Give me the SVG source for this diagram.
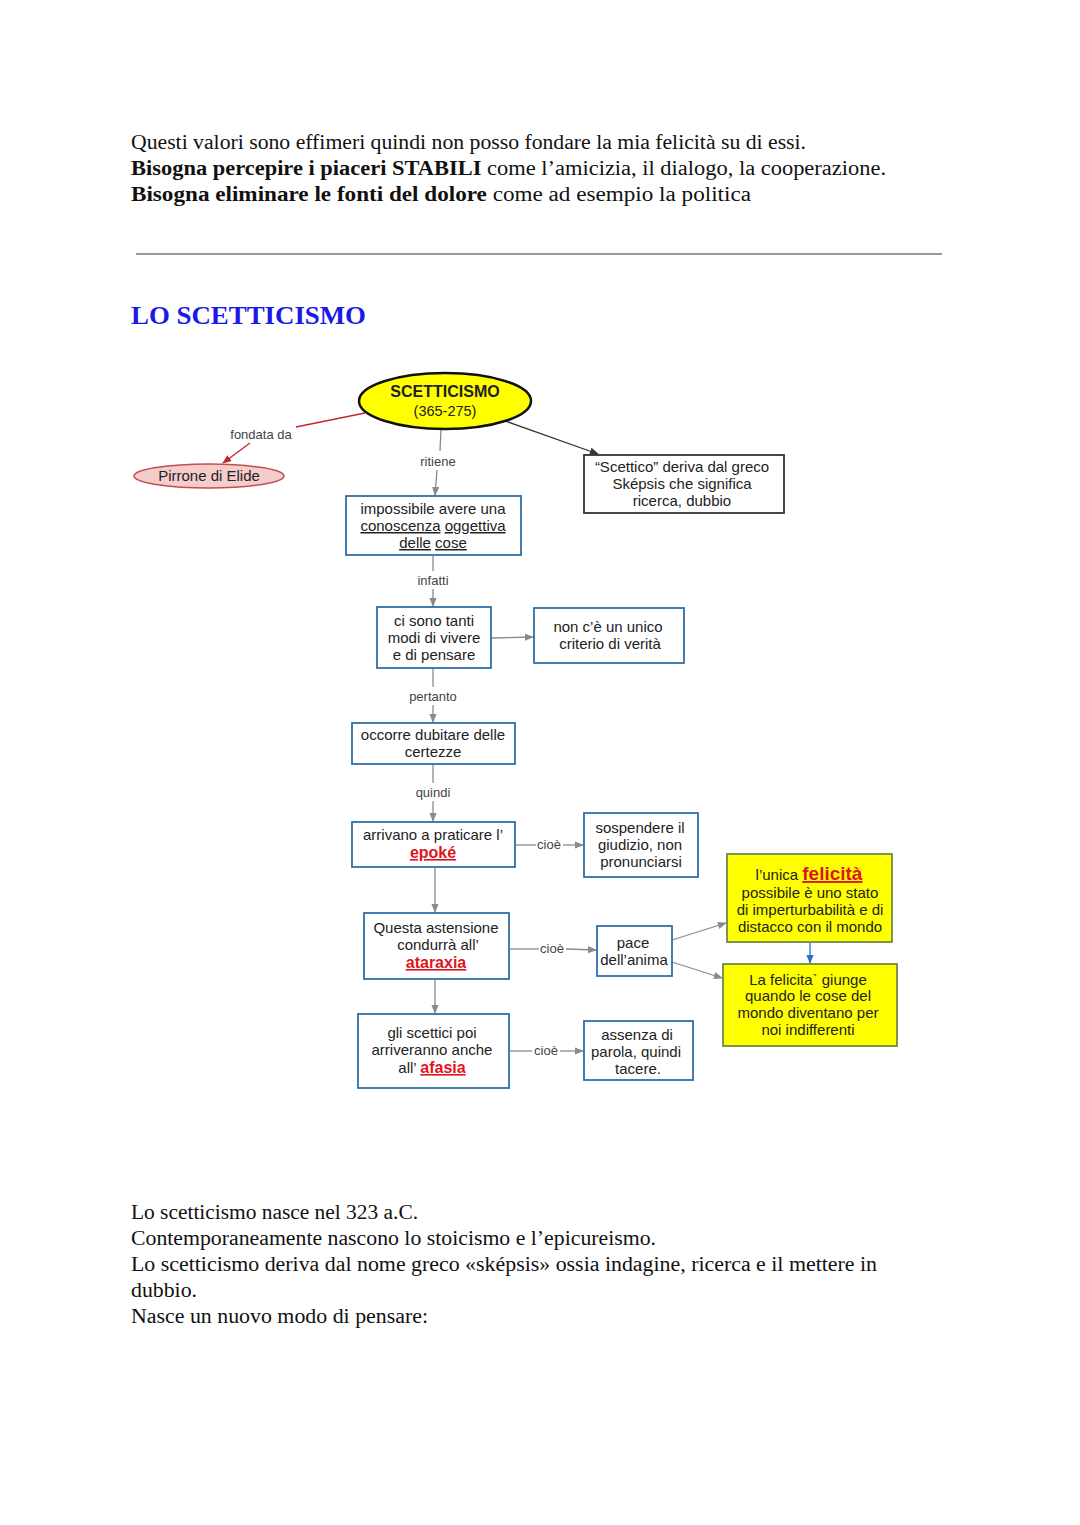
<svg xmlns="http://www.w3.org/2000/svg" width="1080" height="1525" viewBox="0 0 1080 1525">
<defs>
<style>
.p{font-family:"Liberation Serif","Times New Roman",serif;font-size:20px;fill:#111}
.b{font-weight:bold}
.h{font-family:"Liberation Serif",serif;font-size:25px;font-weight:bold;fill:#1a1ae6}
.t{font-family:"Liberation Sans",Arial,sans-serif;font-size:15px;fill:#222;text-anchor:middle}
.l{font-family:"Liberation Sans",Arial,sans-serif;font-size:13px;fill:#444;text-anchor:middle}
.r{fill:#e0141e;font-weight:bold;text-decoration:underline}
.u{text-decoration:underline}
.bx{fill:#fff;stroke:#2f6ea8;stroke-width:1.8}
.yb{fill:#ffff00;stroke:#6f8a48;stroke-width:1.8}
.c{stroke:#8a8a8a;stroke-width:1.3;fill:none}
</style>
<marker id="ag" viewBox="0 0 10 10" refX="9" refY="5" markerWidth="7" markerHeight="7" orient="auto"><path d="M0,1 L10,5 L0,9 Z" fill="#8a8a8a"/></marker>
<marker id="ak" viewBox="0 0 10 10" refX="9" refY="5" markerWidth="7" markerHeight="7" orient="auto"><path d="M0,1 L10,5 L0,9 Z" fill="#333"/></marker>
<marker id="ar" viewBox="0 0 10 10" refX="9" refY="5" markerWidth="7" markerHeight="7" orient="auto"><path d="M0,1 L10,5 L0,9 Z" fill="#c0272d"/></marker>
<marker id="ab" viewBox="0 0 10 10" refX="9" refY="5" markerWidth="7" markerHeight="7" orient="auto"><path d="M0,1 L10,5 L0,9 Z" fill="#2f6ec8"/></marker>
</defs>
<rect width="1080" height="1525" fill="#fff"/>

<g id="intro">
<text class="p" x="131" y="149" textLength="675" lengthAdjust="spacingAndGlyphs">Questi valori sono effimeri quindi non posso fondare la mia felicità su di essi.</text>
<text class="p" x="131" y="175" textLength="755" lengthAdjust="spacingAndGlyphs"><tspan class="b">Bisogna percepire i piaceri STABILI</tspan> come  l’amicizia, il dialogo, la cooperazione.</text>
<text class="p" x="131" y="201" textLength="620" lengthAdjust="spacingAndGlyphs"><tspan class="b">Bisogna eliminare le fonti del dolore</tspan> come ad esempio la politica</text>
<line x1="136" y1="254" x2="942" y2="254" stroke="#999" stroke-width="2"/>
<text class="h" x="131" y="324" textLength="235" lengthAdjust="spacingAndGlyphs">LO SCETTICISMO</text>
</g>

<g id="connectors">
<line x1="365" y1="413" x2="296" y2="427" style="stroke:#c0272d;stroke-width:1.3"/>
<line x1="250" y1="443" x2="223" y2="463" style="stroke:#c0272d;stroke-width:1.3" marker-end="url(#ar)"/>
<text class="l" x="261" y="439">fondata da</text>
<line class="c" x1="441" y1="429" x2="440" y2="451"/>
<line class="c" x1="437" y1="470" x2="435" y2="495" marker-end="url(#ag)"/>
<text class="l" x="438" y="466">ritiene</text>
<line x1="505" y1="421" x2="598" y2="454" stroke="#333" stroke-width="1.3" marker-end="url(#ak)"/>
<line class="c" x1="433" y1="556" x2="433" y2="571"/>
<line class="c" x1="433" y1="589" x2="433" y2="606" marker-end="url(#ag)"/>
<text class="l" x="433" y="585">infatti</text>
<line class="c" x1="491" y1="638" x2="533" y2="637" marker-end="url(#ag)"/>
<line class="c" x1="433" y1="669" x2="433" y2="687"/>
<line class="c" x1="433" y1="705" x2="433" y2="722" marker-end="url(#ag)"/>
<text class="l" x="433" y="701">pertanto</text>
<line class="c" x1="433" y1="765" x2="433" y2="783"/>
<line class="c" x1="433" y1="801" x2="433" y2="821" marker-end="url(#ag)"/>
<text class="l" x="433" y="797">quindi</text>
<line class="c" x1="515" y1="845" x2="536" y2="845"/>
<line class="c" x1="563" y1="845" x2="583" y2="845" marker-end="url(#ag)"/>
<text class="l" x="549" y="849">cioè</text>
<line class="c" x1="435" y1="868" x2="435" y2="912" marker-end="url(#ag)"/>
<line class="c" x1="509" y1="949" x2="539" y2="949"/>
<line class="c" x1="566" y1="949" x2="596" y2="950" marker-end="url(#ag)"/>
<text class="l" x="552" y="953">cioè</text>
<line class="c" x1="672" y1="940" x2="726" y2="923" marker-end="url(#ag)"/>
<line class="c" x1="672" y1="962" x2="722" y2="978" marker-end="url(#ag)"/>
<line x1="810" y1="943" x2="810" y2="963" stroke="#2f6ec8" stroke-width="1.3" marker-end="url(#ab)"/>
<line class="c" x1="435" y1="980" x2="435" y2="1013" marker-end="url(#ag)"/>
<line class="c" x1="509" y1="1051" x2="532" y2="1051"/>
<line class="c" x1="560" y1="1051" x2="583" y2="1051" marker-end="url(#ag)"/>
<text class="l" x="546" y="1055">cioè</text>
</g>

<g id="n-scetticismo">
<ellipse cx="445" cy="401" rx="86" ry="28" fill="#ffff00" stroke="#111" stroke-width="2.5"/>
<text class="t" x="445" y="397" style="font-weight:bold;font-size:16px">SCETTICISMO</text>
<text class="t" x="445" y="416" style="font-size:14.5px">(365-275)</text>
</g>

<g id="n-pirrone">
<ellipse cx="209" cy="476" rx="75" ry="12" fill="#f4cccc" stroke="#c0504d" stroke-width="1.5"/>
<text class="t" x="209" y="481">Pirrone di Elide</text>
</g>

<g id="n-impossibile">
<rect class="bx" x="346" y="496" width="175" height="59"/>
<text class="t" x="433" y="514">impossibile avere una</text>
<text class="t" x="433" y="531"><tspan class="u">conoscenza</tspan> <tspan class="u">oggettiva </tspan></text>
<text class="t" x="433" y="548"><tspan class="u">delle</tspan> <tspan class="u">cose</tspan></text>
</g>

<g id="n-scettico">
<rect x="584" y="455" width="200" height="58" fill="#fff" stroke="#333" stroke-width="1.8"/>
<text class="t" x="682" y="472">“Scettico” deriva dal greco</text>
<text class="t" x="682" y="489">Sképsis che significa</text>
<text class="t" x="682" y="506">ricerca, dubbio</text>
</g>

<g id="n-modi">
<rect class="bx" x="377" y="607" width="114" height="61"/>
<text class="t" x="434" y="626">ci sono tanti</text>
<text class="t" x="434" y="643">modi di vivere</text>
<text class="t" x="434" y="660">e di pensare</text>
</g>

<g id="n-criterio">
<rect class="bx" x="534" y="608" width="150" height="55"/>
<text class="t" x="608" y="632">non c’è un unico</text>
<text class="t" x="610" y="649">criterio di verità</text>
</g>

<g id="n-dubitare">
<rect class="bx" x="352" y="723" width="163" height="41"/>
<text class="t" x="433" y="740">occorre dubitare delle</text>
<text class="t" x="433" y="757">certezze</text>
</g>

<g id="n-epoke">
<rect class="bx" x="352" y="822" width="163" height="45"/>
<text class="t" x="433" y="840">arrivano a praticare l’</text>
<text class="t" x="433" y="858" style="font-size:16px"><tspan class="r">epoké</tspan></text>
</g>

<g id="n-sospendere">
<rect class="bx" x="584" y="813" width="114" height="64"/>
<text class="t" x="640" y="833">sospendere il</text>
<text class="t" x="640" y="850">giudizio, non</text>
<text class="t" x="641" y="867">pronunciarsi</text>
</g>

<g id="n-ataraxia">
<rect class="bx" x="364" y="913" width="145" height="66"/>
<text class="t" x="436" y="933">Questa astensione</text>
<text class="t" x="438" y="950">condurrà all’</text>
<text class="t" x="436" y="968" style="font-size:16px"><tspan class="r">ataraxia</tspan></text>
</g>

<g id="n-pace">
<rect class="bx" x="597" y="926" width="75" height="50"/>
<text class="t" x="633" y="948">pace</text>
<text class="t" x="634" y="965">dell’anima</text>
</g>

<g id="n-felicita1">
<rect class="yb" x="727" y="854" width="165" height="88"/>
<text class="t" x="809" y="880"><tspan>l’unica </tspan><tspan class="r" style="font-size:19px"> felicità</tspan></text>
<text class="t" x="810" y="898">possibile è uno stato</text>
<text class="t" x="810" y="915">di imperturbabilità e di</text>
<text class="t" x="810" y="932">distacco con il mondo</text>
</g>

<g id="n-felicita2">
<rect class="yb" x="723" y="964" width="174" height="82"/>
<text class="t" x="808" y="985">La felicita` giunge</text>
<text class="t" x="808" y="1001">quando le cose del</text>
<text class="t" x="808" y="1018">mondo diventano per</text>
<text class="t" x="808" y="1035">noi indifferenti</text>
</g>

<g id="n-afasia">
<rect class="bx" x="358" y="1014" width="151" height="74"/>
<text class="t" x="432" y="1038">gli scettici poi</text>
<text class="t" x="432" y="1055">arriveranno anche</text>
<text class="t" x="432" y="1073">all’ <tspan class="r" style="font-size:16px">afasia</tspan></text>
</g>

<g id="n-assenza">
<rect class="bx" x="584" y="1021" width="109" height="59"/>
<text class="t" x="637" y="1040">assenza di</text>
<text class="t" x="636" y="1057">parola, quindi</text>
<text class="t" x="638" y="1074">tacere.</text>
</g>

<g id="outro">
<text class="p" x="131" y="1219" textLength="287" lengthAdjust="spacingAndGlyphs">Lo scetticismo nasce nel 323 a.C.</text>
<text class="p" x="131" y="1245" textLength="525" lengthAdjust="spacingAndGlyphs">Contemporaneamente nascono lo stoicismo e l’epicureismo.</text>
<text class="p" x="131" y="1271" textLength="746" lengthAdjust="spacingAndGlyphs">Lo scetticismo deriva dal nome greco «sképsis» ossia  indagine, ricerca e il mettere in</text>
<text class="p" x="131" y="1297" textLength="66" lengthAdjust="spacingAndGlyphs">dubbio.</text>
<text class="p" x="131" y="1323" textLength="297" lengthAdjust="spacingAndGlyphs">Nasce un nuovo modo di pensare:</text>
</g>
</svg>
